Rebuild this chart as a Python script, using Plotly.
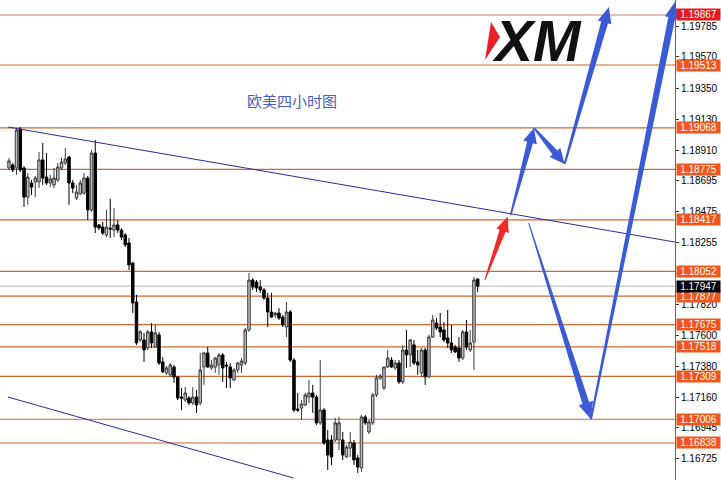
import math
import plotly.graph_objects as go

# ---------------- data (EURUSD H4) ----------------
opens = [1.18784, 1.18806, 1.18784, 1.19060, 1.18784, 1.18578, 1.18678, 1.18685, 1.18685, 1.18841,
         1.18720, 1.18678, 1.18664, 1.18699, 1.18784, 1.18820, 1.18862, 1.18678, 1.18571, 1.18600,
         1.18607, 1.18713, 1.18487, 1.18890, 1.18381, 1.18366, 1.18310, 1.18359, 1.18345, 1.18381,
         1.18345, 1.18310, 1.18254, 1.18112, 1.17836, 1.17567, 1.17567, 1.17510, 1.17624, 1.17517,
         1.17603, 1.17411, 1.17334, 1.17320, 1.17376, 1.17305, 1.17163, 1.17142, 1.17156, 1.17121,
         1.17163, 1.17121, 1.17376, 1.17475, 1.17369, 1.17376, 1.17390, 1.17461, 1.17390, 1.17376,
         1.17284, 1.17355, 1.17390, 1.17404, 1.17638, 1.17991, 1.17977, 1.17942, 1.17921, 1.17864,
         1.17765, 1.17744, 1.17758, 1.17729, 1.17659, 1.17765, 1.17425, 1.17078, 1.17085, 1.17107,
         1.17163, 1.17192, 1.17163, 1.16980, 1.17071, 1.16859, 1.16859, 1.16859, 1.16859, 1.16859,
         1.16739, 1.16802, 1.16838, 1.16732, 1.16661, 1.17022, 1.16916, 1.16980, 1.17178, 1.17298,
         1.17227, 1.17376, 1.17425, 1.17369, 1.17404, 1.17270, 1.17496, 1.17461, 1.17532, 1.17411,
         1.17334, 1.17496, 1.17305, 1.17588, 1.17687, 1.17659, 1.17638, 1.17581, 1.17546, 1.17517,
         1.17510, 1.17439, 1.17624, 1.17496, 1.17553, 1.17998]
highs = [1.18855, 1.18820, 1.19067, 1.19074, 1.18799, 1.18749, 1.18699, 1.18728, 1.18897, 1.18961,
         1.18890, 1.18735, 1.18784, 1.18820, 1.18855, 1.18925, 1.18869, 1.18699, 1.18664, 1.18699,
         1.18749, 1.18728, 1.18911, 1.18982, 1.18388, 1.18402, 1.18487, 1.18565, 1.18501, 1.18416,
         1.18359, 1.18324, 1.18289, 1.18119, 1.17886, 1.17638, 1.17617, 1.17638, 1.17687, 1.17673,
         1.17624, 1.17446, 1.17383, 1.17404, 1.17390, 1.17312, 1.17227, 1.17234, 1.17170, 1.17234,
         1.17213, 1.17475, 1.17482, 1.17517, 1.17425, 1.17446, 1.17475, 1.17475, 1.17411, 1.17404,
         1.17369, 1.17411, 1.17439, 1.17652, 1.18041, 1.18005, 1.17991, 1.17991, 1.17935, 1.17900,
         1.17900, 1.17765, 1.17793, 1.17744, 1.17836, 1.17779, 1.17439, 1.17192, 1.17142, 1.17192,
         1.17284, 1.17249, 1.17178, 1.17425, 1.17085, 1.16930, 1.16895, 1.17015, 1.17022, 1.16916,
         1.16824, 1.16916, 1.16859, 1.16753, 1.17036, 1.17036, 1.17001, 1.17192, 1.17320, 1.17327,
         1.17376, 1.17496, 1.17446, 1.17425, 1.17425, 1.17532, 1.17638, 1.17574, 1.17567, 1.17496,
         1.17510, 1.17510, 1.17603, 1.17744, 1.17722, 1.17758, 1.17694, 1.17779, 1.17673, 1.17532,
         1.17588, 1.17638, 1.17708, 1.17638, 1.18013, 1.18005]
lows = [1.18770, 1.18756, 1.18735, 1.18756, 1.18508, 1.18523, 1.18593, 1.18578, 1.18642, 1.18664,
        1.18664, 1.18649, 1.18642, 1.18685, 1.18770, 1.18806, 1.18523, 1.18607, 1.18558, 1.18593,
        1.18593, 1.18416, 1.18473, 1.18324, 1.18345, 1.18310, 1.18295, 1.18289, 1.18295, 1.18324,
        1.18275, 1.18225, 1.18062, 1.17758, 1.17532, 1.17553, 1.17411, 1.17496, 1.17510, 1.17510,
        1.17390, 1.17334, 1.17320, 1.17305, 1.17263, 1.17142, 1.17071, 1.17128, 1.17107, 1.17107,
        1.17050, 1.17107, 1.17249, 1.17369, 1.17355, 1.17334, 1.17320, 1.17270, 1.17227, 1.17227,
        1.17277, 1.17334, 1.17334, 1.17390, 1.17624, 1.17921, 1.17907, 1.17900, 1.17850, 1.17659,
        1.17722, 1.17722, 1.17708, 1.17659, 1.17588, 1.17411, 1.17057, 1.17057, 1.17001, 1.17100,
        1.17121, 1.17050, 1.16966, 1.16966, 1.16824, 1.16647, 1.16682, 1.16845, 1.16788, 1.16718,
        1.16732, 1.16739, 1.16682, 1.16626, 1.16633, 1.16966, 1.16902, 1.16966, 1.17163, 1.17284,
        1.17213, 1.17369, 1.17369, 1.17355, 1.17256, 1.17256, 1.17369, 1.17376, 1.17390, 1.17320,
        1.17305, 1.17249, 1.17298, 1.17581, 1.17638, 1.17588, 1.17553, 1.17510, 1.17475, 1.17475,
        1.17411, 1.17425, 1.17496, 1.17482, 1.17355, 1.17907]
closes = [1.18834, 1.18770, 1.19053, 1.18770, 1.18578, 1.18720, 1.18649, 1.18713, 1.18841, 1.18713,
          1.18678, 1.18706, 1.18713, 1.18791, 1.18827, 1.18848, 1.18678, 1.18642, 1.18614, 1.18678,
          1.18713, 1.18487, 1.18890, 1.18366, 1.18359, 1.18324, 1.18366, 1.18352, 1.18381, 1.18345,
          1.18295, 1.18240, 1.18098, 1.17829, 1.17546, 1.17624, 1.17496, 1.17624, 1.17546, 1.17617,
          1.17404, 1.17341, 1.17369, 1.17390, 1.17305, 1.17156, 1.17156, 1.17192, 1.17121, 1.17163,
          1.17107, 1.17355, 1.17475, 1.17376, 1.17390, 1.17439, 1.17461, 1.17369, 1.17383, 1.17298,
          1.17355, 1.17404, 1.17418, 1.17638, 1.17991, 1.17942, 1.17935, 1.17921, 1.17864, 1.17765,
          1.17729, 1.17758, 1.17722, 1.17673, 1.17765, 1.17425, 1.17071, 1.17071, 1.17114, 1.17178,
          1.17192, 1.17163, 1.16980, 1.17071, 1.16838, 1.16753, 1.16739, 1.16980, 1.16980, 1.16753,
          1.16809, 1.16845, 1.16718, 1.16668, 1.17022, 1.16980, 1.16987, 1.17178, 1.17298, 1.17312,
          1.17376, 1.17439, 1.17376, 1.17404, 1.17270, 1.17496, 1.17461, 1.17567, 1.17404, 1.17390,
          1.17496, 1.17305, 1.17588, 1.17708, 1.17652, 1.17624, 1.17567, 1.17546, 1.17496, 1.17482,
          1.17439, 1.17624, 1.17517, 1.17546, 1.17991, 1.17947]
bars = list(range(len(opens)))

levels = [1.19867, 1.19513, 1.19068, 1.18775, 1.18417, 1.18052, 1.17877,
          1.17675, 1.17518, 1.17309, 1.17006, 1.16838]
current_price = 1.17947
tick_values = [1.19785, 1.19570, 1.19350, 1.19130, 1.18910, 1.18695, 1.18475, 1.18255,
               1.18035, 1.17820, 1.17600, 1.17380, 1.17160, 1.16945, 1.16725]
tick_labels = [f"{v:.5f}" for v in tick_values]

upper_channel_x = [-0.27, 177.6]
upper_channel_y = [1.19074, 1.18260]
lower_channel_x = [-0.27, 75.9]
lower_channel_y = [1.17163, 1.16590]

# projected paths (bar index, price)
red_path_x = [126.9, 133.0]
red_path_y = [1.17991, 1.18440]
bull_path_x = [133.8, 140.0, 148.2, 160.0]
bull_path_y = [1.18452, 1.19068, 1.18813, 1.19923]
bear_path_x = [138.6, 155.2, 177.6]
bear_path_y = [1.18395, 1.17006, 1.19959]

title_text = "欧美四小时图"

# ---------------- layout geometry ----------------
W, H = 721, 480
PW, PH = 675, 480
X0, X1 = -2.404, 177.62
Y0, Y1 = 1.16576, 1.19973

def to_px(xi, p):
    return ((xi - X0) / (X1 - X0) * PW, (Y1 - p) / (Y1 - Y0) * PH)

def tapered(xa, ya, xb, yb, w0, w1, hl, hw):
    px0, py0 = to_px(xa, ya)
    px1, py1 = to_px(xb, yb)
    dx, dy = px1 - px0, py1 - py0
    L = math.hypot(dx, dy)
    ux, uy = dx / L, dy / L
    nx, ny = -uy, ux
    bx, by = px1 - ux * hl, py1 - uy * hl
    pts = [(px0 + nx * w0, py0 + ny * w0), (bx + nx * w1, by + ny * w1),
           (bx + nx * hw, by + ny * hw), (px1, py1),
           (bx - nx * hw, by - ny * hw), (bx - nx * w1, by - ny * w1),
           (px0 - nx * w0, py0 - ny * w0)]
    return "M " + " L ".join(f"{x / PW:.5f},{1 - y / PH:.5f}" for x, y in pts) + " Z"

fig = go.Figure()
fig.add_trace(go.Candlestick(
    x=bars, open=opens, high=highs, low=lows, close=closes,
    increasing=dict(line=dict(color="#3c3c3c", width=1), fillcolor="#bdbdbd"),
    decreasing=dict(line=dict(color="#000000", width=1), fillcolor="#000000"),
    whiskerwidth=0, hoverinfo="skip", showlegend=False))

shapes = []
shapes.append(dict(type="line", xref="paper", yref="y", x0=0, x1=1, y0=current_price, y1=current_price,
                   line=dict(color="#cfcfcf", width=1.5), layer="below"))
for i, lv in enumerate(levels):
    shapes.append(dict(type="line", xref="paper", yref="y", x0=0, x1=1, y0=lv, y1=lv,
                       line=dict(color="#c8806e" if i == 0 else "#d2692c", width=1.2), layer="below"))
shapes.append(dict(type="line", xref="x", yref="y", x0=upper_channel_x[0], x1=upper_channel_x[1],
                   y0=upper_channel_y[0], y1=upper_channel_y[1], line=dict(color="#2b2b9e", width=1)))
shapes.append(dict(type="line", xref="x", yref="y", x0=lower_channel_x[0], x1=lower_channel_x[1],
                   y0=lower_channel_y[0], y1=lower_channel_y[1], line=dict(color="#2b2b9e", width=1)))

blue = "#3a5ad6"
red = "#ee2b2b"
shapes.append(dict(type="path", xref="paper", yref="paper",
                   path=tapered(red_path_x[0], red_path_y[0], red_path_x[1], red_path_y[1], 0.5, 3.2, 15, 6.5),
                   fillcolor=red, line=dict(width=0)))
bull_w = [(0.8, 3.0, 15, 7), (0.8, 3.2, 15, 7), (1.0, 3.5, 16, 7)]
for k in range(len(bull_path_x) - 1):
    w0, w1, hl, hw = bull_w[k]
    shapes.append(dict(type="path", xref="paper", yref="paper",
                       path=tapered(bull_path_x[k], bull_path_y[k], bull_path_x[k + 1], bull_path_y[k + 1], w0, w1, hl, hw),
                       fillcolor=blue, line=dict(width=0)))
bear_w = [(0.5, 3.5, 17, 7.5), (1.0, 3.5, 16, 7)]
for k in range(len(bear_path_x) - 1):
    w0, w1, hl, hw = bear_w[k]
    shapes.append(dict(type="path", xref="paper", yref="paper",
                       path=tapered(bear_path_x[k], bear_path_y[k], bear_path_x[k + 1], bear_path_y[k + 1], w0, w1, hl, hw),
                       fillcolor=blue, line=dict(width=0)))
tri = [(491, 22), (500, 37), (485, 60)]
shapes.append(dict(type="path", xref="paper", yref="paper",
                   path="M " + " L ".join(f"{x / PW:.5f},{1 - y / PH:.5f}" for x, y in tri) + " Z",
                   fillcolor="#e8202a", line=dict(width=0)))

annotations = []
for i, lv in enumerate(levels):
    annotations.append(dict(x=1, xref="paper", xanchor="left", xshift=1, y=lv, yref="y", yanchor="middle",
                            text=f"{lv:.5f}", showarrow=False, bgcolor="#e41b1b" if i == 0 else "#f2561d",
                            font=dict(family="Liberation Sans", size=10, color="white"),
                            width=43, height=11, borderpad=0, align="center"))
annotations.append(dict(x=1, xref="paper", xanchor="left", xshift=1, y=current_price, yref="y", yanchor="middle",
                        text=f"{current_price:.5f}", showarrow=False, bgcolor="#000000",
                        font=dict(family="Liberation Sans", size=10, color="white"),
                        width=43, height=11, borderpad=0, align="center"))
annotations.append(dict(x=292 / PW, xref="paper", y=1 - 100 / PH, yref="paper", text=title_text,
                        showarrow=False, xanchor="center", yanchor="middle",
                        font=dict(family="Noto Sans CJK SC", size=15, color="#4a60c4")))
annotations.append(dict(x=537 / PW, xref="paper", y=1 - 41 / PH, yref="paper", text="<b><i>XM</i></b>",
                        showarrow=False, xanchor="center", yanchor="middle",
                        font=dict(family="Liberation Sans", size=57, color="#111111")))

fig.update_layout(
    width=W, height=H, margin=dict(l=0, r=W - PW, t=0, b=0),
    paper_bgcolor="white", plot_bgcolor="white", boxgap=0.05,
    shapes=shapes, annotations=annotations, showlegend=False, hovermode=False,
    xaxis=dict(range=[X0, X1], visible=False, rangeslider=dict(visible=False), fixedrange=True),
    yaxis=dict(range=[Y0, Y1], side="right", showgrid=False, zeroline=False,
               tickvals=tick_values, ticktext=tick_labels, ticks="outside", ticklen=3,
               tickcolor="#333333", showline=True, linecolor="#666666", linewidth=1,
               tickfont=dict(family="Liberation Sans", size=10, color="#000000"), fixedrange=True),
)

fig.write_html("out.html", include_plotlyjs=True, config={"displayModeBar": False},
               post_script="document.body.style.margin='0';document.body.style.overflow='hidden';")
